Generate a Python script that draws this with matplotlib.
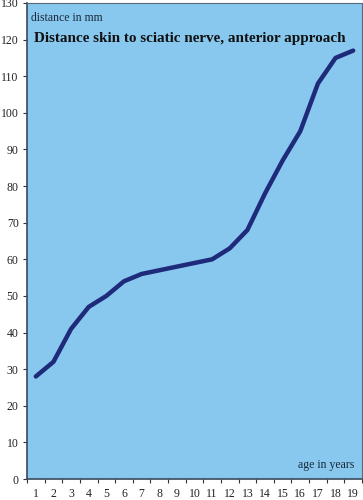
import matplotlib
matplotlib.use("Agg")
import matplotlib.pyplot as plt
import numpy as np

ages = list(range(1, 20))
distance_mm = [28, 32, 41, 47, 50, 54, 56, 57, 58, 59, 60, 63, 68, 78, 87, 95, 108, 115, 117]
y_ticks = list(range(0, 131, 10))

plt.rcParams['font.family'] = ['Liberation Serif', 'DejaVu Serif']

fig = plt.figure(figsize=(3.63, 5.0), dpi=100)
ax = fig.add_axes([27/363, 21/500, 335/363, 476/500])
ax.set_facecolor('#88C8EE')
ax.plot(ages, distance_mm, color='#1E2A7A', linewidth=3.2, solid_capstyle='round', solid_joinstyle='round')

ax.set_xlim(0.5, 19.5)
ax.set_ylim(0, 130)
ax.set_yticks(y_ticks)
ax.set_yticklabels([str(v) for v in y_ticks], fontsize=8.5, color='#222222')
ax.set_xticks(np.arange(0.5, 20.0, 1.0))
ax.set_xticklabels([])
ax.set_xticks(ages, minor=True)
ax.set_xticklabels([str(a) for a in ages], minor=True, fontsize=8.5, color='#222222')
ax.tick_params(axis='x', which='major', length=3, width=0.8, direction='out', color='#333333')
ax.tick_params(axis='x', which='minor', length=0, pad=6.5)
ax.tick_params(axis='y', length=3, width=0.8, direction='out', color='#333333', pad=3)

for s in ['left', 'bottom']:
    ax.spines[s].set_color('#3a4a5a')
    ax.spines[s].set_linewidth(1.2)
for s in ['top', 'right']:
    ax.spines[s].set_color('#5a6a7a')
    ax.spines[s].set_linewidth(0.8)

ax.text(0.012, 0.981, 'distance in mm', transform=ax.transAxes, fontsize=8.5, color='#1a2a3a', va='top', ha='left')
ax.text(0.02, 0.94, 'Distance skin to sciatic nerve, anterior approach', transform=ax.transAxes,
        fontsize=10.9, fontweight='bold', color='#111111', va='top', ha='left')
ax.text(0.978, 0.017, 'age in years', transform=ax.transAxes, fontsize=8.5, color='#1a2a3a', va='bottom', ha='right')

fig.savefig('out.png', dpi=100)
